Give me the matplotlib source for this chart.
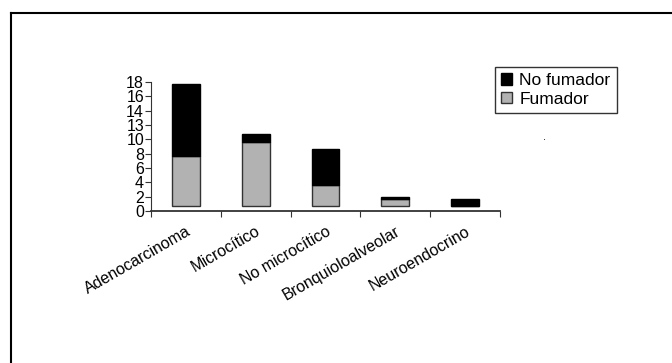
import matplotlib
matplotlib.use("Agg")
import matplotlib.pyplot as plt
from matplotlib.lines import Line2D
from matplotlib.patches import Patch

plt.rcParams['font.family'] = ['Liberation Sans Narrow', 'Liberation Sans', 'DejaVu Sans']

tipos = ["Adenocarcinoma", "Microcítico", "No microcítico", "Bronquioloalveolar", "Neuroendocrino"]
fumador = [7, 9, 3, 1, 0]
no_fumador = [10, 1, 5, 0.3, 1]
yticks = [0, 2, 4, 6, 8, 10, 12, 14, 16, 18]
ytick_labels = ["0", "2", "4", "6", "8", "10", "13", "14", "16", "18"]

gris = "#b2b2b2"
borde = "#333333"
base = 0.7  # bars sit slightly above the axis line

fig = plt.figure(figsize=(6.72, 3.63), dpi=100)
ax = fig.add_axes([0.2247, 0.4187, 0.5193, 0.3553])

x = range(len(tipos))
ax.bar(x, fumador, width=0.4, bottom=base, color=gris, edgecolor=borde, linewidth=1)
tops = [base + f for f in fumador]
ax.bar(x, no_fumador, width=0.4, bottom=tops, color="black", edgecolor="black", linewidth=1)

ax.set_xlim(-0.5, len(tipos) - 0.5)
ax.set_ylim(0, 18)
ax.set_yticks(yticks)
ax.set_yticklabels(ytick_labels, fontsize=11.5)

# category ticks sit on the boundaries between bars
ax.set_xticks([i - 0.5 for i in range(len(tipos) + 1)])
ax.set_xticklabels([])
ax.set_xticks(list(x), minor=True)
ax.set_xticklabels(tipos, minor=True, rotation=30, ha="right", va="top",
                   rotation_mode="anchor", fontsize=11.5)
ax.tick_params(axis="x", which="minor", length=0, pad=9)
ax.tick_params(axis="x", which="major", length=4, direction="out", color="#333333")
ax.tick_params(axis="y", length=4, direction="out", pad=1, color="#333333")

for side in ("top", "right"):
    ax.spines[side].set_visible(False)
ax.spines["left"].set_color("#333333")
ax.spines["bottom"].set_color("#333333")
ax.spines["bottom"].set_linewidth(1.3)

handles = [Patch(facecolor="black", edgecolor="black"),
           Patch(facecolor=gris, edgecolor=borde)]
leg = fig.legend(handles, ["No fumador", "Fumador"], loc="upper left",
                 bbox_to_anchor=(495 / 672, 1 - 67 / 363), fontsize=12.5,
                 frameon=True, fancybox=False, edgecolor="black",
                 handlelength=0.65, handleheight=0.65, handletextpad=0.4,
                 borderpad=0.35, labelspacing=0.2, borderaxespad=0)
leg.get_frame().set_linewidth(1)
fig.text(545 / 672, 1 - 137 / 363, ".", fontsize=8, ha="center", va="center")

# outer frame: only top and left edges
fig.add_artist(Line2D([11 / 672, 1], [1 - 13 / 363, 1 - 13 / 363], color="black", lw=1.5))
fig.add_artist(Line2D([11 / 672, 11 / 672], [0, 1 - 13 / 363], color="black", lw=1.5))

fig.savefig("out.png", dpi=100, facecolor="white")
